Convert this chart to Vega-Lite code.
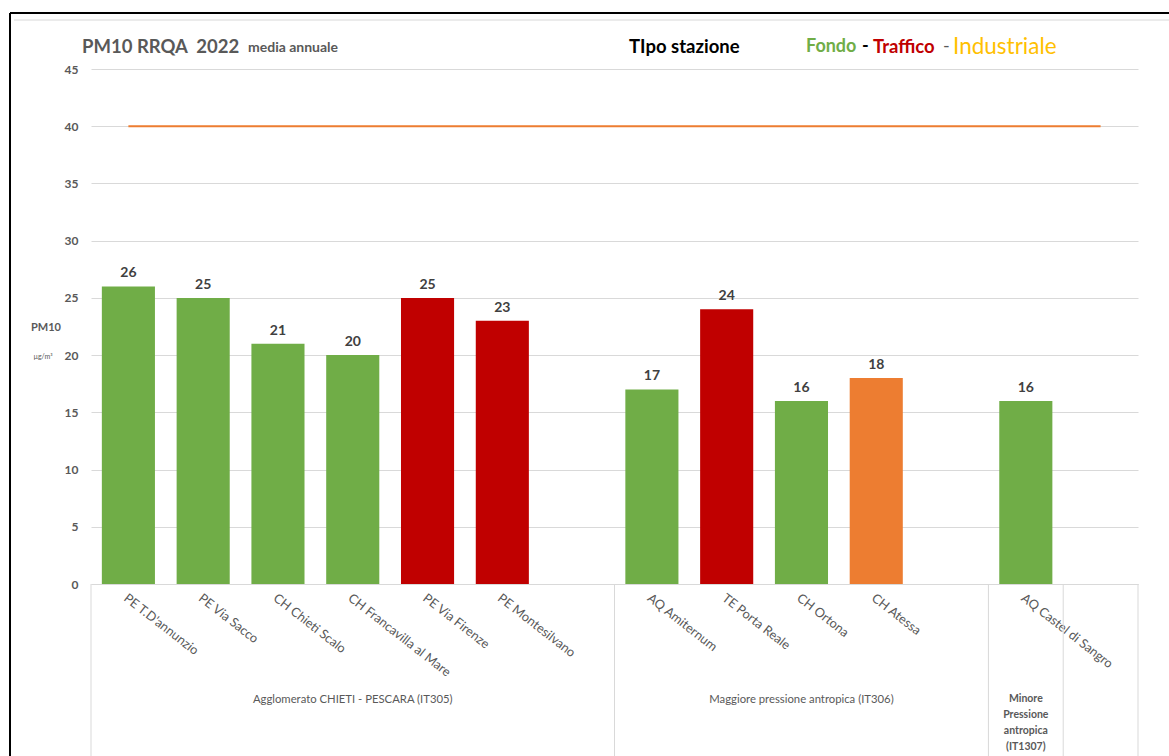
{
  "$schema": "https://vega.github.io/schema/vega-lite/v6.json",
  "autosize": {"type": "none"},
  "width": 1047,
  "height": 515,
  "padding": {"left": 91, "top": 69, "right": 31, "bottom": 172},
  "background": "#ffffff",
  "config": {
    "view": {"stroke": null},
    "font": "Lato",
    "text": {"font": "Lato"}
  },
  "data": {"values": [{}]},
  "datasets": {
    "stazioni": [
      {"stazione": "PE T.D'annunzio", "tipo": "Fondo", "pm10": 26},
      {"stazione": "PE Via Sacco", "tipo": "Fondo", "pm10": 25},
      {"stazione": "CH Chieti Scalo", "tipo": "Fondo", "pm10": 21},
      {"stazione": "CH Francavilla al Mare", "tipo": "Fondo", "pm10": 20},
      {"stazione": "PE  Via Firenze", "tipo": "Traffico", "pm10": 25},
      {"stazione": "PE Montesilvano", "tipo": "Traffico", "pm10": 23},
      {"stazione": "AQ Amiternum", "tipo": "Fondo", "pm10": 17},
      {"stazione": "TE Porta Reale", "tipo": "Traffico", "pm10": 24},
      {"stazione": "CH Ortona", "tipo": "Fondo", "pm10": 16},
      {"stazione": "CH Atessa", "tipo": "Industriale", "pm10": 18},
      {"stazione": "AQ Castel di Sangro", "tipo": "Fondo", "pm10": 16}
    ],
    "limite": [
      {"stazione": "PE T.D'annunzio", "valore": 40},
      {"stazione": "   ", "valore": 40}
    ],
    "zone": [
      {"stazione": "CH Francavilla al Mare", "zona": "Agglomerato CHIETI - PESCARA (IT305)"},
      {"stazione": "CH Ortona", "zona": "Maggiore pressione antropica (IT306)"}
    ],
    "separatori": [
      {"stazione": "PE T.D'annunzio"},
      {"stazione": "AQ Amiternum"},
      {"stazione": "AQ Castel di Sangro"},
      {"stazione": "   "}
    ]
  },
  "layer": [
    {
      "data": {"name": "stazioni"},
      "mark": {"type": "bar", "width": {"band": 0.71}},
      "encoding": {
        "x": {
          "field": "stazione",
          "type": "nominal",
          "sort": null,
          "scale": {
            "domain": ["PE T.D'annunzio", "PE Via Sacco", "CH Chieti Scalo", "CH Francavilla al Mare", "PE  Via Firenze", "PE Montesilvano", " ", "AQ Amiternum", "TE Porta Reale", "CH Ortona", "CH Atessa", "  ", "AQ Castel di Sangro", "   "],
            "paddingInner": 0,
            "paddingOuter": 0
          },
          "axis": {
            "title": null,
            "domain": true,
            "domainColor": "#D9D9D9",
            "ticks": false,
            "grid": false,
            "labelAngle": 38,
            "labelAlign": "left",
            "labelBaseline": "middle",
            "labelPadding": 12,
            "labelOffset": -3,
            "labelFont": "Lato",
            "labelFontSize": 12.8,
            "labelColor": "#595959",
            "labelLimit": 220
          }
        },
        "y": {
          "field": "pm10",
          "type": "quantitative",
          "scale": {"domain": [0, 45], "nice": false},
          "axis": {
            "title": null,
            "values": [0, 5, 10, 15, 20, 25, 30, 35, 40, 45],
            "grid": true,
            "gridColor": "#D9D9D9",
            "domain": false,
            "ticks": false,
            "labelPadding": 13,
            "labelFont": "Lato",
            "labelFontSize": 12,
            "labelFontWeight": "bold",
            "labelColor": "#595959"
          }
        },
        "color": {
          "field": "tipo",
          "type": "nominal",
          "scale": {"domain": ["Fondo", "Traffico", "Industriale"], "range": ["#70AD47", "#C00000", "#ED7D31"]},
          "legend": null
        }
      }
    },
    {
      "data": {"name": "stazioni"},
      "mark": {"type": "text", "baseline": "bottom", "dy": -6, "fontSize": 14, "fontWeight": "bold", "color": "#404040"},
      "encoding": {
        "x": {"field": "stazione", "type": "nominal", "sort": null},
        "y": {"field": "pm10", "type": "quantitative"},
        "text": {"field": "pm10", "type": "quantitative"}
      }
    },
    {
      "data": {"name": "limite"},
      "mark": {"type": "line", "color": "#ED7D31", "strokeWidth": 2},
      "encoding": {
        "x": {"field": "stazione", "type": "nominal", "sort": null},
        "y": {"field": "valore", "type": "quantitative"}
      }
    },
    {
      "data": {"name": "separatori"},
      "mark": {"type": "rule", "color": "#D9D9D9", "strokeWidth": 1},
      "encoding": {
        "x": {"field": "stazione", "type": "nominal", "bandPosition": 0},
        "y": {"datum": 0},
        "y2": {"datum": -15.3}
      }
    },
    {
      "mark": {"type": "rule", "color": "#D9D9D9", "strokeWidth": 1},
      "encoding": {
        "x": {"datum": "   ", "bandPosition": 1},
        "y": {"datum": 0},
        "y2": {"datum": -15.3}
      }
    },
    {
      "data": {"name": "zone"},
      "mark": {"type": "text", "baseline": "middle", "align": "center", "fontSize": 11.3, "color": "#595959"},
      "encoding": {
        "x": {"field": "stazione", "type": "nominal"},
        "y": {"datum": -10.14},
        "text": {"field": "zona"}
      }
    },
    {
      "mark": {"type": "text", "baseline": "top", "align": "center", "fontSize": 10.5, "fontWeight": "bold", "color": "#595959", "lineHeight": 16.2, "lineBreak": "\n"},
      "encoding": {
        "x": {"datum": "AQ Castel di Sangro"},
        "y": {"datum": -9.6},
        "text": {"datum": "Minore\nPressione\nantropica\n(IT1307)"}
      }
    },
    {
      "mark": {"type": "text", "align": "center", "baseline": "middle", "dx": -45, "fontSize": 11, "fontWeight": "bold", "color": "#595959"},
      "encoding": {
        "x": {"datum": "PE T.D'annunzio", "bandPosition": 0},
        "y": {"datum": 22.4},
        "text": {"datum": "PM10"}
      }
    },
    {
      "mark": {"type": "text", "align": "center", "baseline": "middle", "dx": -48, "fontSize": 7, "color": "#595959"},
      "encoding": {
        "x": {"datum": "PE T.D'annunzio", "bandPosition": 0},
        "y": {"datum": 19.84},
        "text": {"datum": "µg/m³"}
      }
    },
    {
      "mark": {"type": "text", "align": "left", "baseline": "middle", "dx": -9, "fontSize": 18.5, "fontWeight": "bold", "color": "#595959"},
      "encoding": {
        "x": {"datum": "PE T.D'annunzio", "bandPosition": 0},
        "y": {"datum": 46.92},
        "text": {"datum": "PM10 RRQA\u00a0\u00a02022"}
      }
    },
    {
      "mark": {"type": "text", "align": "left", "baseline": "middle", "dx": 157, "dy": 1, "fontSize": 14, "fontWeight": "bold", "color": "#595959"},
      "encoding": {
        "x": {"datum": "PE T.D'annunzio", "bandPosition": 0},
        "y": {"datum": 46.92},
        "text": {"datum": "media annuale"}
      }
    },
    {
      "mark": {"type": "text", "align": "left", "baseline": "middle", "dx": 538, "fontSize": 18.5, "fontWeight": "bold", "color": "#000000"},
      "encoding": {
        "x": {"datum": "PE T.D'annunzio", "bandPosition": 0},
        "y": {"datum": 46.92},
        "text": {"datum": "TIpo stazione"}
      }
    },
    {
      "mark": {"type": "text", "align": "left", "baseline": "middle", "dx": 715, "fontSize": 18, "fontWeight": "bold", "color": "#70AD47"},
      "encoding": {
        "x": {"datum": "PE T.D'annunzio", "bandPosition": 0},
        "y": {"datum": 46.92},
        "text": {"datum": "Fondo"}
      }
    },
    {
      "mark": {"type": "text", "align": "left", "baseline": "middle", "dx": 771, "fontSize": 18, "fontWeight": "bold", "color": "#000000"},
      "encoding": {
        "x": {"datum": "PE T.D'annunzio", "bandPosition": 0},
        "y": {"datum": 46.92},
        "text": {"datum": "-"}
      }
    },
    {
      "mark": {"type": "text", "align": "left", "baseline": "middle", "dx": 782, "fontSize": 18.5, "fontWeight": "bold", "color": "#C00000"},
      "encoding": {
        "x": {"datum": "PE T.D'annunzio", "bandPosition": 0},
        "y": {"datum": 46.92},
        "text": {"datum": "Traffico"}
      }
    },
    {
      "mark": {"type": "text", "align": "left", "baseline": "middle", "dx": 852, "fontSize": 18, "color": "#595959"},
      "encoding": {
        "x": {"datum": "PE T.D'annunzio", "bandPosition": 0},
        "y": {"datum": 46.92},
        "text": {"datum": "-"}
      }
    },
    {
      "mark": {"type": "text", "align": "left", "baseline": "middle", "dx": 862, "fontSize": 22.5, "color": "#FFC000"},
      "encoding": {
        "x": {"datum": "PE T.D'annunzio", "bandPosition": 0},
        "y": {"datum": 46.92},
        "text": {"datum": "Industriale"}
      }
    },
    {
      "mark": {"type": "rule", "color": "#D9D9D9", "strokeWidth": 1, "xOffset": -77, "x2Offset": 100},
      "encoding": {
        "x": {"datum": "PE T.D'annunzio", "bandPosition": 0},
        "x2": {"datum": "   "},
        "y": {"datum": 49.28}
      }
    },
    {
      "mark": {"type": "rule", "color": "#000000", "strokeWidth": 2, "xOffset": -81, "x2Offset": 100},
      "encoding": {
        "x": {"datum": "PE T.D'annunzio", "bandPosition": 0},
        "x2": {"datum": "   "},
        "y": {"datum": 49.9}
      }
    },
    {
      "mark": {"type": "rule", "color": "#000000", "strokeWidth": 2, "xOffset": -81},
      "encoding": {
        "x": {"datum": "PE T.D'annunzio", "bandPosition": 0},
        "y": {"datum": 49.9},
        "y2": {"datum": -15.5}
      }
    }
  ]
}
